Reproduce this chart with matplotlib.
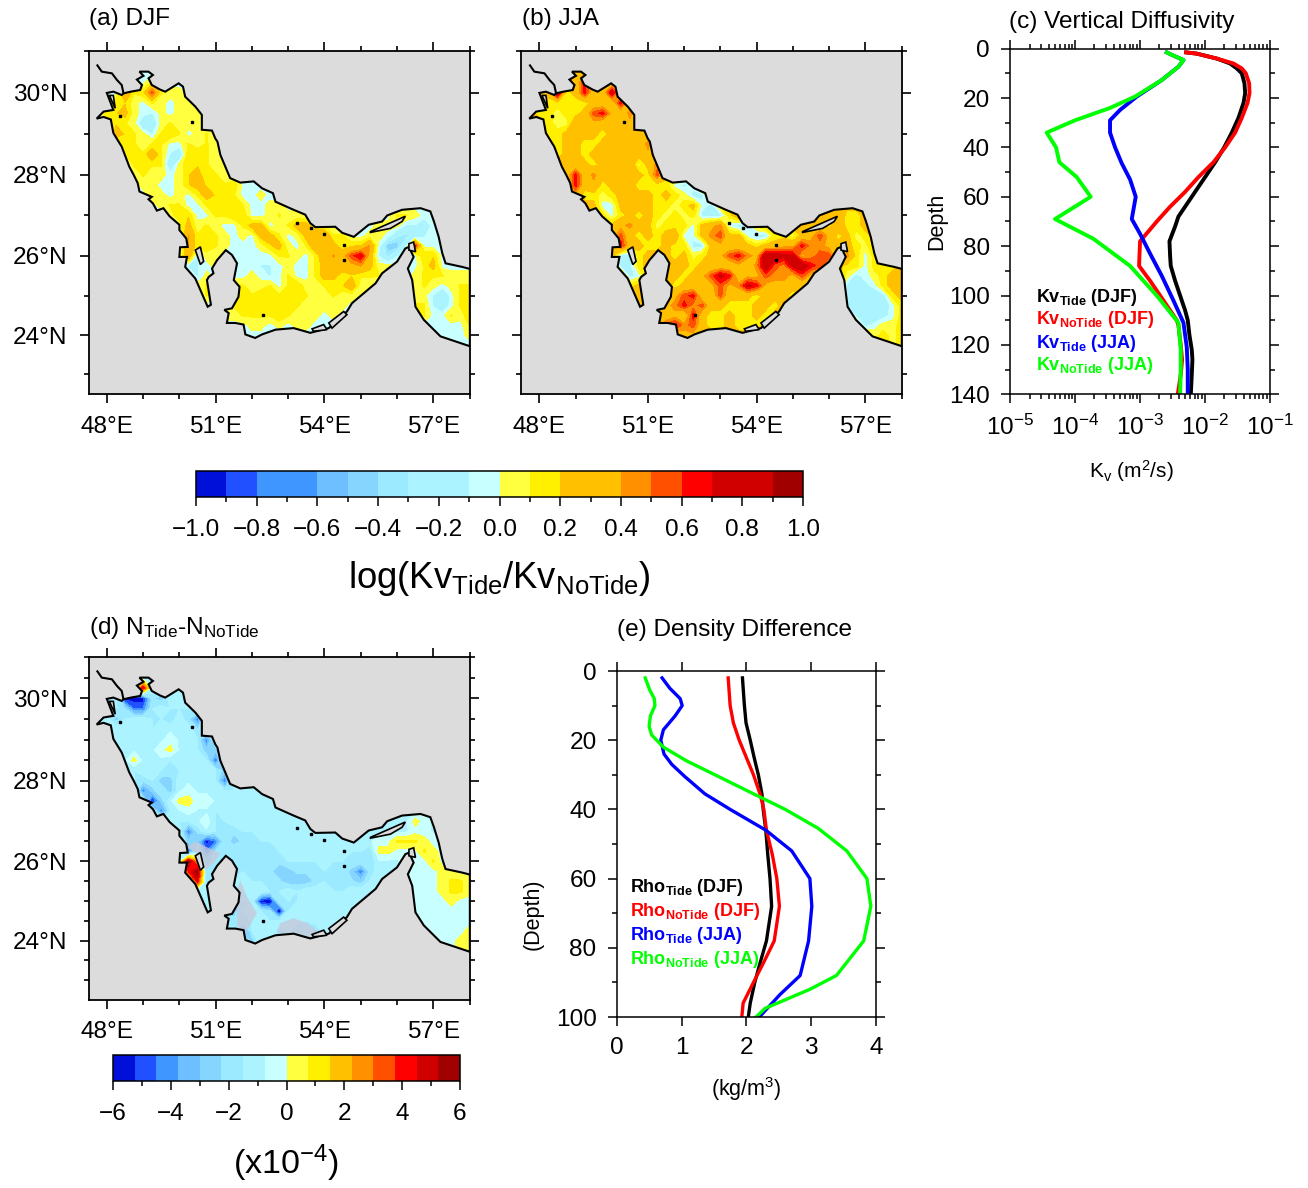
import numpy as np
import matplotlib
matplotlib.use('Agg')
import matplotlib.pyplot as plt
from matplotlib.colors import ListedColormap, BoundaryNorm
from matplotlib.patches import Polygon
from matplotlib.colorbar import ColorbarBase

plt.rcParams['font.family'] = 'Liberation Sans'
plt.rcParams['mathtext.fontset'] = 'custom'
plt.rcParams['mathtext.rm'] = 'Liberation Sans'
plt.rcParams['mathtext.it'] = 'Liberation Sans'
plt.rcParams['mathtext.bf'] = 'Liberation Sans:bold'
plt.rcParams['mathtext.default'] = 'regular'

W, H = 1308, 1188

# --- coast and islands (degrees) ---
coast_lon = [48.46, 48.66, 48.92, 48.97, 48.83, 49.01, 48.90, 49.15, 49.27, 49.15, 49.24, 49.47, 49.61, 49.98, 50.10,
             50.16, 50.44, 50.62, 50.62, 50.90, 50.99, 51.05, 51.13, 51.40, 51.68, 52.05, 52.28, 52.58, 52.65, 53.15,
             53.47, 53.61, 53.75, 54.30, 54.49, 54.81, 55.22, 55.59, 55.73, 56.14, 56.65, 56.92, 57.02, 57.15, 57.25,
             57.34, 57.80, 58.01, 58.01, 57.20, 56.74, 56.51, 56.42, 56.30, 56.46, 56.33, 56.23, 56.00, 55.59, 55.41,
             54.76, 54.62, 54.12, 53.61, 53.15, 52.65, 52.28, 52.09, 51.82, 51.77, 51.54, 51.31, 51.36, 51.24, 51.45,
             51.63, 51.66, 51.50, 51.59, 51.45, 51.28, 51.04, 50.90, 50.94, 50.81, 50.76, 50.87, 50.78, 50.58, 50.44,
             50.16, 50.21, 50.00, 50.02, 50.23, 50.19, 50.00, 50.00, 49.73, 49.56, 49.38, 49.27, 49.15, 49.24, 48.90,
             48.85, 48.74, 48.62, 48.41, 48.18, 48.11, 47.91, 47.72, 47.91, 48.18, 48.00, 48.18, 48.41]
coast_lat = [29.98, 30.02, 30.06, 30.18, 30.31, 30.40, 30.50, 30.50, 30.42, 30.34, 30.18, 30.07, 30.02, 30.22, 30.14,
             29.90, 29.66, 29.46, 29.10, 29.08, 28.89, 28.81, 28.49, 27.92, 27.81, 27.84, 27.67, 27.55, 27.34, 27.14,
             27.02, 26.81, 26.71, 26.72, 26.57, 26.47, 26.77, 26.85, 27.00, 27.14, 27.18, 27.10, 26.85, 26.47, 26.06,
             25.81, 25.72, 25.67, 23.72, 23.97, 24.39, 24.72, 25.39, 25.68, 25.97, 26.22, 26.18, 25.85, 25.56, 25.31,
             24.81, 24.60, 24.18, 24.06, 24.18, 24.14, 24.02, 23.93, 24.02, 24.27, 24.31, 24.31, 24.56, 24.64, 24.68,
             24.97, 25.22, 25.39, 25.81, 26.02, 26.14, 25.89, 25.68, 25.56, 25.47, 25.39, 24.77, 24.72, 25.14, 25.43,
             25.72, 25.97, 25.97, 26.21, 26.22, 26.43, 26.64, 26.77, 26.98, 27.18, 27.12, 27.30, 27.40, 27.46, 27.59,
             27.80, 28.00, 28.20, 28.69, 29.02, 29.35, 29.41, 29.37, 29.54, 29.58, 29.99, 30.02, 29.94]
shatt_lon = [47.74, 47.86, 48.14, 48.28, 48.41, 48.46]
shatt_lat = [30.65, 30.50, 30.46, 30.30, 30.18, 29.98]

bahrain_lon = [50.44, 50.58, 50.67, 50.58]
bahrain_lat = [26.14, 26.22, 25.86, 25.78]
qeshm_lon = [55.27, 56.23, 56.14, 55.82, 55.27]
qeshm_lat = [26.60, 26.98, 26.85, 26.68, 26.58]
musandam_lon = [56.33, 56.46, 56.51, 56.33]
musandam_lat = [26.30, 26.34, 26.10, 26.14]
abu1_lon = [53.66, 53.98, 54.07, 53.70]
abu1_lat = [24.16, 24.27, 24.14, 24.10]
abu2_lon = [54.12, 54.53, 54.62, 54.21]
abu2_lat = [24.31, 24.60, 24.52, 24.18]
bubiyan_lon = [48.07, 48.18, 48.23]
bubiyan_lat = [29.93, 29.93, 29.62]
islet_lon = [53.24, 53.98, 54.53, 48.35, 50.35, 52.31, 54.53, 53.63]
islet_lat = [26.82, 26.54, 25.89, 29.43, 29.30, 24.51, 26.27, 26.68]

# pale grey shelf patches in panel d
shelf1_lon = [50.21, 50.44, 51.13, 50.94, 50.71, 50.60]
shelf1_lat = [26.37, 26.49, 26.20, 25.95, 25.78, 26.10]
shelf2_lon = [52.78, 53.15, 53.52, 53.89, 53.61, 53.15, 52.69]
shelf2_lat = [24.45, 24.57, 24.45, 24.20, 24.07, 24.16, 24.20]
shelf3_lon = [51.68, 51.86, 52.14, 51.77, 51.59, 51.59]
shelf3_lat = [25.53, 25.12, 24.70, 24.12, 24.37, 25.28]

# --- map fields: colour bin index per 0.25 degree cell ---
# each row: first lon column, then values eastward, rows from 30.25N down to 23.75N
grid_lon = np.arange(47.75, 58.01, 0.25)
grid_lat = np.arange(30.5, 23.49, -0.25)

djf_first = [5, 3, 2, 1, 2, 2, 2, 3, 4, 4, 5, 5, 7, 8, 9, 10, 10, 10, 10, 11, 11, 12, 14, 14, 16, 38, 40]
djf_rows = [
    [-1, 1, 1, -1, -1],
    [5, 1, 2, 7, 1, 0, 0],
    [2, 2, 0, -1, 1, 0, -1, 0, 0],
    [2, 2, 3, 0, -1, -2, 0, -1, 0, 0, 0],
    [2, 1, 0, -4, -4, 0, 1, 0, 0, 0],
    [3, 2, 1, 0, -2, 1, 2, 1, -1, 0, 1],
    [1, 2, 1, 0, 1, 1, -1, -1, 1, 0, 1, 0],
    [1, 1, 1, 4, 1, -2, -4, 2, 2, 1, 0],
    [1, 2, 1, 1, -4, 0, 2, 2, 1, 0, 0],
    [0, 1, 0, 0, -1, 0, 2, 3, 1, 1, 0],
    [0, 0, -1, -1, 0, 2, 3, 2, 2, 1, 2, -1, -1],
    [-1, 0, 0, -1, 0, -1, 1, 3, 2, 2, 1, -1, -1, 0, -1],
    [0, 1, 1, -1, -1, 1, 2, 2, 2, 1, -1, -1, 0, 0],
    [0, 2, 2, -1, -1, 1, 1, 2, 2, -1, -1, 0, 1, 0, 0, 0] + [-1] * 9 + [1, 1, 0, -1, -1],
    [0, 3, 0, 1, 0, -1, -1, 1, 3, 3, -1, 0, 1, 3, 3, 1, 1] + [-1] * 5 + [0, 0, 0, -2, -2, -4, -1],
    [5, 1, 1, 1, 0, -1, 0, -1, 3, 3, 1, -1, 0, 3, 4, 4, 1, 1, -1, -1, 0, 0, -1, -4, -5, -4, -2, -1, -1],
    [5, 1, 2, 1, 0, -1, -1, -1, 0, 2, 3, 0, -1, 1, 4, 4, 3, 1, 2, 2, 5, -1, -7, -7, -2, 8, -1, -1, -1],
    [4, -2, 0, 0, -1, -1, -1, -1, -1, -1, 1, 1, 0, -1, 1, 4, 5, 4, 7, 9, 4, -2, -5, -2, -1, -1, 2, 2, -1],
    [-2, -2, -1, 0, -1, -1, -1, -1, -2, -2, -1, 0, -1, -1, 1, 3, 4, 4, 4, 5, 3, 0, 0, 0, -1, -1, 1, 3, -1, -1, -1, -1],
    [-2, 0, -1, -1, -1, -1, 0, -1, -2, -1, 1, -1, -1, 1, 3, 3, 1, 2, 1, 1, 1, -1, -1, -1, 0, 1, 1, 1, 0, 0, 0],
    [0, 1, -1, -1, 1, 1, 0, 0, 1, -1, 1, 2, 0, 0, 1, 1, 2, 4, 0, 0, -1, -1, -1, -1, 0, 1, 0, -1, 0, 1, 1],
    [1, -1, -1, 0, 1, 1, 2, 1, 1, 2, 2, 1, 0, 0, 1, 0, 0, 0] + [-1] * 5 + [0, 0, -2, -5, -1, 1, 2],
    [0, 1, 1, 1, 2, 2, 2, 2, 1, 0, 0, 0, 0, 0] + [-1] * 7 + [1, 1, -2, -4, -1, 1, 2],
    [0, 0, 1, 1, 1, 1, 2, 1, 0, 0, 0, -1, 0] + [-1] * 9 + [1, -1, -1, 1, 0, 2],
    [-1, 0, 0, -1, 0, -1, 0, 0, -1, -1] + [-1] * 15 + [1],
    [-1, -1, -1, 0],
    [-1, -1],
]

jja_first = [5, 3, 2, 1, 2, 2, 3, 3, 4, 4, 5, 5, 7, 8, 9, 10, 10, 10, 10, 11, 11, 12, 14, 14, 15, 17, 40]
jja_rows = [
    [2, 6, 3, 2, 2],
    [8, 1, 2, 6, 2, 2, 7, 3],
    [1, 1, 1, 1, 1, 2, 2, 2, 6, 2],
    [1, 1, 0, 1, 1, 2, 5, 6, 3, 2, 4],
    [1, 0, 0, 3, 3, 3, 2, 2, 2, 3],
    [1, 1, 2, 3, 2, 2, 1, 2, 2, 3, 2],
    [1, 2, 2, 1, 1, 2, 2, 2, 2, 2, 4],
    [1, 2, 2, 1, 2, 2, 3, 2, 2, 2, 3],
    [2, 2, 2, 1, 2, 2, 2, 3, 0, 2, 4],
    [2, 6, 2, 4, 2, 2, 2, 2, 2, 1, 5],
    [6, 2, 3, 1, 2, 2, 2, 1, 1, 1, 1, -1, -2, -1],
    [3, 1, 1, 0, 1, 2, 2, 2, 2, 1, 2, 1, 0, -2, -2],
    [2, -1, -1, 2, 2, 2, 2, 1, 1, 0, 1, 2, -1, -2, 1],
    [1, -1, 1, 2, 1, 2, 1, 0, 1, 0, 1, -2, -2, -2, 1, 3] + [2] * 9 + [2, 3, 1, 1, 2],
    [2, 3, 4, 2, 2, 0, 1, 1, 1, -1, 2, 3, 4, -1, -2, -2, 1] + [2] * 5 + [2, 2, 1, 3, 1, 1, 2],
    [5, 2, 1, 2, 1, 2, 3, -1, -1, 2, 4, 5, 2, 2, -1, -2, -2, 1, 1, 0, 2, 3, 5, 3, 1, 2, 0, 1, 2],
    [6, 2, 2, 1, 1, 2, 1, 1, -2, -2, 2, 3, 2, 2, 2, 1, 2, 2, 3, 3, 6, 4, 4, 3, 2, 2, 1, 0, 2],
    [-2, -2, 1, 2, 2, 2, 1, 2, 0, 1, 2, 3, 5, 6, 4, 3, 8, 8, 7, 7, 3, 4, 5, 5, 2, 4, 1, -1, 1],
    [-2, -2, 1, 2, 2, 2, 2, 2, 1, 2, 2, 2, 2, 3, 2, 4, 8, 5, 4, 7, 8, 6, 5, 3, 2, 1, 1, -1, 1, 1, 1, 2],
    [-2, -1, 2, 2, 2, 2, 1, 2, 3, 5, 7, 6, 2, 3, 3, 5, 4, 4, 3, 5, 3, 2, 2, 2, 0, -2, -1, 0, 1, 2, 3],
    [1, 2, 2, 2, 2, 1, 2, 2, 2, 3, 5, 3, 4, 7, 6, 3, 3, 3, 2, 2] + [2] * 4 + [-2, -2, -2, -1, 1, 2, 3],
    [2, 2, 2, 1, 3, 5, 6, 2, 2, 5, 2, 2, 2, 1, 2, 2, 2, 1] + [2] * 5 + [-2, -3, -3, -3, -2, 1, 2],
    [1, 3, 4, 6, 4, 5, 2, 2, 1, 1, 1, 2, 2, 1] + [2] * 7 + [-2, -3, -3, -3, -3, -1, 1],
    [3, 2, 3, 1, 6, 2, 1, 1, 2, 1, 1, 2, 1] + [2] * 9 + [-2, -3, -3, -2, -1, 1],
    [5, 6, 4, 5, 2, 1, 1, 2, 1, 1, 1] + [2] * 11 + [-2, -1, 0, 0, 1],
    [3, 3] + [2] * 19 + [0, 1, 0, 1],
    [0, 1],
]

n2_first = [4, 3, 2, 1, 2, 2, 3, 3, 4, 4, 5, 6, 7, 8, 9, 10, 10, 10, 10, 10, 11, 12, 14, 14, 16, 17, 39]
n2_rows = [
    [-2, 7, -2, -2, -2],
    [-10, -10, -10, -4, -5, -2, -2],
    [-3, -4, -8, -8, -3, -2, -3, -3, -3],
    [-2, -5, -3, -2, -2, -3, -3, -4, -2, -4, -8],
    [-2, -2, -2, -2, -3, -2, -2, -3, -2, -4],
    [-2, -2, -2, -3, -2, -2, -1, -2, -2, -3, -8],
    [-2, -2, -2, -2, -1, 0, -2, -2, -3, -5, -5],
    [-2, 0, -2, -2, -2, -3, -2, -2, -2, -3, -8],
    [-3, -2, -2, -3, -3, -3, -2, -2, -2, -3, -5],
    [-3, -4, -3, -5, -5, -2, -2, -3, -2, -3, -8],
    [-8, -5, -3, -5, -2, -1, -2, -2, -2, -3, -3, -2],
    [-10, -5, -2, 0, 0, -1, -1, -2, -2, -2],
    [-8, -3, -2, -1, -2, -2, -3, -2, -2],
    [-2, -3, -3, -2, -1, -3, -3] + [-2] * 18 + [-2, -2, 0, -1, -2],
    [-2, -8, -4, -2, -3, -3, -4, -3, -3] + [-2] * 15 + [-2, -2, -1, -1, -2],
    [-5, -5, -10, -8, -3, -5, -4, -3, -3, -3] + [-2] * 11 + [-1, -1, 1, 1, 1, 0, -1],
    [-8, -3, -8, -4, -3, -3, -3, -3, -3, -3, -3] + [-2] * 7 + [-3, -3, -4, 0, 0, -1, -1, -1, 1, 0, -1],
    [9, 3, -5, -3, -3, -3, -3, -3, -3, -3, -4, -3, -3, -3, -3, -2, -3, -3, -3, -3, -4, -2, -2, -2, -1, -1, -1, 1, -1],
    [6, 9, -4, -3, -3, -4, -3, -3, -4, -4, -5, -5, -4, -4, -3, -3, -3, -3, -5, -8, -4, -2, -2, -2, -1, -1, -1, -1, 0, 0, -1, -1],
    [-3, 7, -4, -3, -3, -3, -2, -3, -3, -4, -4, -5, -5, -5, -4, -3, -3, -3, -4, -5, -3, -2, -2, -2, -2, -1, -1, -1, 0, 1, 1, 0],
    [-3, -2, -2, -2, -3, -2, -2, -2, -3, -3, -2, -3, -2, -2, -2, -3, -3] + [-2] * 7 + [-1, -1, -1, 0, 1, 1, 0],
    [-2, -2, -2, -5, -3, -3, -10, -11, -3, -3, -3] + [-2] * 12 + [-1, -1, -1, -1, 0, -1, -1],
    [-2, -5, -3, -2, -3, -4, -11, -3] + [-2] * 14 + [-1] * 6,
    [-4, -4, -3, -3, -2, -3, -2, -2, -2, -3, -2, -2] + [-2] * 10 + [-1] * 6,
    [-8, -3, -2, -2, -4, -3, -5, -3, -5, -2] + [-2] * 11 + [-1, -1, -1, -1, 0],
    [-5, -2] + [-2] * 19 + [-1, -1, 0, 0],
    [-1, 0, 0],
]

# --- profile panels ---
kv_depth_djf = [1.5, 2, 4, 6, 8, 10, 14, 18, 22, 28, 34, 40, 46, 52, 58, 64, 68, 72, 78, 84, 88, 94, 100, 106, 110, 116, 122, 126, 132, 140]
kv_tide_djf = [-2.285, -2.121, -1.812, -1.607, -1.504, -1.427, -1.386, -1.375, -1.401, -1.478, -1.581, -1.699, -1.838, -1.992, -2.147,
               -2.301, -2.404, -2.455, -2.542, -2.532, -2.522, -2.455, -2.378, -2.301, -2.26, -2.234, -2.198, -2.188, -2.198, -2.213]
kv_depth_djf2 = [1.5, 2, 4, 6, 8, 10, 14, 18, 22, 28, 34, 40, 46, 52, 58, 64, 70, 74, 78, 84, 88, 94, 100, 106, 110, 112, 120, 126, 132, 140]
kv_notide_djf = [-2.285, -2.121, -1.812, -1.555, -1.427, -1.365, -1.314, -1.308, -1.339, -1.427, -1.530, -1.684, -1.864, -2.095, -2.301,
                 -2.532, -2.738, -2.866, -2.995, -3.005, -3.010, -2.841, -2.686, -2.532, -2.429, -2.404, -2.368, -2.347, -2.368, -2.414]
kv_depth_tide_jja = [1.5, 2.5, 4.6, 7.3, 12.7, 19.4, 24.8, 29, 34, 40, 46.4, 53, 60, 69, 75, 83, 92, 102, 111, 121, 130, 140]
kv_tide_jja = [-2.584, -2.506, -2.326, -2.404, -2.661, -3.046, -3.303, -3.458, -3.458, -3.380, -3.278, -3.149, -3.062, -3.123, -2.995,
               -2.841, -2.661, -2.481, -2.326, -2.275, -2.260, -2.260]
kv_depth_notide_jja = [1.5, 2.5, 4.6, 7.3, 12.7, 19.4, 24, 29, 34, 40, 46, 52, 60, 69, 77, 88, 100, 111, 122, 130, 140]
kv_notide_jja = [-2.584, -2.506, -2.326, -2.404, -2.661, -3.072, -3.458, -3.997, -4.434, -4.290, -4.239, -3.972, -3.756, -4.306, -3.715,
                 -3.149, -2.738, -2.404, -2.368, -2.368, -2.378]

rho_depth = [2, 10, 15, 20, 25, 30, 35.5, 40, 46, 53, 60, 68, 78, 84.5, 90, 96, 100]
rho_tide_djf = [1.94, 1.97, 1.995, 2.06, 2.12, 2.185, 2.24, 2.26, 2.30, 2.33, 2.365, 2.39, 2.31, 2.21, 2.13, 2.06, 2.03]
rho_notide_djf = [1.72, 1.75, 1.80, 1.89, 2.0, 2.11, 2.21, 2.27, 2.31, 2.40, 2.47, 2.51, 2.43, 2.26, 2.11, 1.95, 1.93]
rho_depth_tide_jja = [2, 5, 8, 10, 13, 17, 20, 24, 27, 30.5, 35.5, 40, 46, 52, 60, 68, 78, 88, 93.5, 100]
rho_tide_jja = [0.70, 0.82, 0.98, 1.01, 0.90, 0.72, 0.68, 0.73, 0.85, 1.05, 1.36, 1.75, 2.30, 2.70, 2.98, 3.01, 2.96, 2.83, 2.52, 2.20]
rho_depth_notide_jja = [2, 5.5, 8, 10, 13, 16, 18.5, 22, 26, 30.5, 35.5, 40, 45.5, 52, 60, 68, 78, 88, 92, 97.5, 100]
rho_notide_jja = [0.44, 0.51, 0.58, 0.59, 0.52, 0.50, 0.54, 0.72, 1.08, 1.57, 2.11, 2.60, 3.11, 3.55, 3.86, 3.92, 3.81, 3.39, 2.98, 2.29, 2.15]

# --- colour scales ---
bar_colors = ['#0010d8', '#2050ff', '#3f96ff', '#6ebfff', '#85d5ff', '#9ceaff', '#aaf3ff', '#c8ffff',
              '#ffff40', '#fff000', '#ffc000', '#ff9000', '#ff5000', '#ff0000', '#d00000', '#a00000']
kv_levels = [-1, -0.9, -0.8, -0.6, -0.5, -0.4, -0.3, -0.1, 0, 0.1, 0.2, 0.4, 0.5, 0.6, 0.7, 0.9, 1]
kv_ticks = [-1.0, -0.8, -0.6, -0.4, -0.2, 0.0, 0.2, 0.4, 0.6, 0.8, 1.0]
kv_tick_labels = ['\u22121.0', '\u22120.8', '\u22120.6', '\u22120.4', '\u22120.2', '0.0', '0.2', '0.4', '0.6', '0.8', '1.0']
n2_levels = [-6, -5.25, -4.5, -3.75, -3, -2.25, -1.5, -0.75, 0, 0.75, 1.5, 2.25, 3, 3.75, 4.5, 5.25, 6]
n2_ticks = [-6, -4, -2, 0, 2, 4, 6]
n2_tick_labels = ['\u22126', '\u22124', '\u22122', '0', '2', '4', '6']

lon_ticks = [48, 51, 54, 57]
lon_labels = ['48\u00b0E', '51\u00b0E', '54\u00b0E', '57\u00b0E']
lat_ticks = [24, 26, 28, 30]
lat_labels = ['24\u00b0N', '26\u00b0N', '28\u00b0N', '30\u00b0N']

LAND = '#dcdcdc'
MAJOR, MINOR = 6.5, 3.4
FONT = 17.6
cmap = ListedColormap(bar_colors)


def axes_px(left, top, right, bottom):
    return fig.add_axes([left / W, 1 - bottom / H, (right - left) / W, (bottom - top) / H])


def label_px(x, y, text, **kw):
    kw.setdefault('fontsize', FONT)
    kw.setdefault('va', 'center')
    fig.text(x / W, 1 - y / H, text, **kw)


def merc(lat):
    return np.log(np.tan(np.pi / 4 + np.radians(lat) / 2))


def merc_inv(y):
    return np.degrees(2 * np.arctan(np.exp(y)) - np.pi / 2)


def build_field(first, rows, default, unit):
    grid = np.full((len(grid_lat), len(grid_lon)), float(default))
    for r, (start, vals) in enumerate(zip(first, rows)):
        grid[r + 1, start:start + len(vals)] = vals
    return (grid + 0.5) * unit


def draw_map(ax, field, levels, lat_minor):
    ax.set_facecolor(LAND)
    ax.set_xlim(47.5, 58)
    ax.set_yscale('function', functions=(merc, merc_inv))
    ax.set_ylim(22.5, 31)
    coast = Polygon(np.column_stack([coast_lon, coast_lat]), closed=True, facecolor='none',
                    edgecolor='black', linewidth=1.5, zorder=4)
    ax.add_patch(coast)
    cs = ax.contourf(grid_lon, grid_lat[::-1], field[::-1], levels=levels, colors=bar_colors, zorder=2)
    cs.set_clip_path(coast)
    ax.plot(shatt_lon, shatt_lat, color='black', linewidth=1.5, zorder=4)
    for xs, ys in [(bahrain_lon, bahrain_lat), (qeshm_lon, qeshm_lat), (musandam_lon, musandam_lat),
                   (abu1_lon, abu1_lat), (abu2_lon, abu2_lat), (bubiyan_lon, bubiyan_lat)]:
        ax.add_patch(Polygon(np.column_stack([xs, ys]), closed=True, facecolor=LAND,
                             edgecolor='black', linewidth=1.2, zorder=5))
    ax.plot(islet_lon, islet_lat, linestyle='none', marker='s', markersize=1.6, color='black', zorder=5)

    ax.set_xticks(lon_ticks, lon_labels)
    ax.set_xticks(np.arange(48, 58.5, 1), minor=True)
    ax.set_yticks(lat_ticks, lat_labels)
    ax.set_yticks(lat_minor, minor=True)
    ax.yaxis.set_major_formatter(plt.FixedFormatter(lat_labels))
    ax.yaxis.set_minor_formatter(plt.NullFormatter())
    ax.tick_params(which='major', direction='out', top=True, right=True, length=MAJOR, width=1.2,
                   labelsize=FONT, pad=9)
    ax.tick_params(which='minor', direction='out', top=True, right=True, length=MINOR, width=1.2)
    for s in ax.spines.values():
        s.set_linewidth(1.3)
    return coast


def style_profile(ax):
    ax.tick_params(which='major', direction='out', top=True, right=True, length=MAJOR, width=1.1,
                   labelsize=FONT, pad=8)
    ax.tick_params(which='minor', direction='out', top=True, right=True, length=MINOR, width=1.1)
    for s in ax.spines.values():
        s.set_linewidth(1.1)


fig = plt.figure(figsize=(W / 100, H / 100), dpi=100)

# --- (a) DJF ---
ax_a = axes_px(88.7, 50.7, 469.5, 394)
draw_map(ax_a, build_field(djf_first, djf_rows, -1, 0.075), kv_levels, np.arange(23, 32, 1))
label_px(89, 19, '(a) DJF')

# --- (b) JJA ---
ax_b = axes_px(521.3, 50.7, 901.5, 394)
draw_map(ax_b, build_field(jja_first, jja_rows, 2, 0.1), kv_levels, np.arange(23, 32, 1))
ax_b.set_yticklabels([])
label_px(522, 19, '(b) JJA')

# --- (d) N difference ---
ax_d = axes_px(88.7, 656.7, 469.5, 999.5)
coast_d = draw_map(ax_d, build_field(n2_first, n2_rows, -2, 0.6), n2_levels, np.arange(23, 31.5, 0.5))
for xs, ys in [(shelf1_lon, shelf1_lat), (shelf2_lon, shelf2_lat), (shelf3_lon, shelf3_lat)]:
    shelf = Polygon(np.column_stack([xs, ys]), closed=True, facecolor='#c8c8d8', edgecolor='none',
                    alpha=0.75, zorder=3)
    ax_d.add_patch(shelf)
    shelf.set_clip_path(coast_d)
label_px(89, 628, r'(d) N$_{Tide}$-N$_{NoTide}$')

# --- (c) vertical diffusivity ---
ax_c = axes_px(1010, 48.7, 1269.5, 394.3)
ax_c.plot(10.0 ** np.array(kv_tide_djf), kv_depth_djf, color='black', linewidth=2.8)
ax_c.plot(10.0 ** np.array(kv_notide_djf), kv_depth_djf2, color='#ff0000', linewidth=2.8)
ax_c.plot(10.0 ** np.array(kv_tide_jja), kv_depth_tide_jja, color='#0000ff', linewidth=2.8)
ax_c.plot(10.0 ** np.array(kv_notide_jja), kv_depth_notide_jja, color='#00ff00', linewidth=2.8)
ax_c.set_xscale('log')
ax_c.set_xlim(1e-5, 1e-1)
ax_c.set_ylim(140, 0)
ax_c.set_xticks([1e-5, 1e-4, 1e-3, 1e-2, 1e-1])
ax_c.xaxis.set_minor_locator(matplotlib.ticker.LogLocator(base=10, subs=np.arange(2, 10), numticks=12))
ax_c.xaxis.set_minor_formatter(plt.NullFormatter())
ax_c.set_yticks(np.arange(0, 141, 20))
ax_c.set_yticks(np.arange(0, 141, 10), minor=True)
style_profile(ax_c)
label_px(1009, 22, '(c) Vertical Diffusivity')
label_px(937, 221, 'Depth', rotation=90, ha='center', fontsize=15.5)
label_px(1131, 471, r'K$_{v}$ (m$^{2}$/s)', ha='center', fontsize=15)
for y, txt, col in [(298, r'Kv$_{\mathbf{Tide}}$ (DJF)', 'black'), (320, r'Kv$_{\mathbf{NoTide}}$ (DJF)', '#ff0000'),
                    (343, r'Kv$_{\mathbf{Tide}}$ (JJA)', '#0000ff'), (366, r'Kv$_{\mathbf{NoTide}}$ (JJA)', '#00ff00')]:
    label_px(1036, y, txt, color=col, fontsize=13, fontweight='bold')

# --- (e) density difference ---
ax_e = axes_px(616.7, 671, 876, 1017)
ax_e.plot(rho_tide_djf, rho_depth, color='black', linewidth=2.4)
ax_e.plot(rho_notide_djf, rho_depth, color='#ff0000', linewidth=2.4)
ax_e.plot(rho_tide_jja, rho_depth_tide_jja, color='#0000ff', linewidth=2.4)
ax_e.plot(rho_notide_jja, rho_depth_notide_jja, color='#00ff00', linewidth=2.4)
ax_e.set_xlim(0, 4)
ax_e.set_ylim(100, 0)
ax_e.set_xticks([0, 1, 2, 3, 4])
ax_e.set_yticks(np.arange(0, 101, 20))
ax_e.set_yticks(np.arange(0, 101, 10), minor=True)
style_profile(ax_e)
label_px(617, 630, '(e) Density Difference')
label_px(533, 914, '(Depth)', rotation=90, ha='center', fontsize=15.5)
label_px(746, 1089, r'(kg/m$^{3}$)', ha='center', fontsize=15.5)
for y, txt, col in [(887, r'Rho$_{\mathbf{Tide}}$ (DJF)', 'black'), (911, r'Rho$_{\mathbf{NoTide}}$ (DJF)', '#ff0000'),
                    (936, r'Rho$_{\mathbf{Tide}}$ (JJA)', '#0000ff'), (960, r'Rho$_{\mathbf{NoTide}}$ (JJA)', '#00ff00')]:
    label_px(630, y, txt, color=col, fontsize=13, fontweight='bold')

# --- colorbars ---
cax1 = axes_px(196, 470.5, 803, 497)
cb1 = ColorbarBase(cax1, cmap=cmap, norm=BoundaryNorm(kv_levels, cmap.N), spacing='proportional',
                   orientation='horizontal', ticks=kv_ticks)
cb1.set_ticklabels(kv_tick_labels)
cax1.set_xticks(np.arange(-1, 1.01, 0.1), minor=True)
cax1.tick_params(which='major', length=MAJOR, width=1.1, labelsize=FONT, pad=9.5)
cax1.tick_params(which='minor', length=MINOR, width=1.1)
cb1.outline.set_linewidth(1.1)
label_px(499, 578, r'log(Kv$_{Tide}$/Kv$_{NoTide}$)', ha='center', fontsize=26.3)

cax2 = axes_px(113, 1055, 460, 1081)
cb2 = ColorbarBase(cax2, cmap=cmap, norm=BoundaryNorm(n2_levels, cmap.N), spacing='proportional',
                   orientation='horizontal', ticks=n2_ticks)
cb2.set_ticklabels(n2_tick_labels)
cax2.set_xticks(np.arange(-6, 6.1, 1), minor=True)
cax2.tick_params(which='major', length=MAJOR, width=1.1, labelsize=FONT, pad=9)
cax2.tick_params(which='minor', length=MINOR, width=1.1)
cb2.outline.set_linewidth(1.1)
label_px(286, 1163, r'(x10$^{-4}$)', ha='center', fontsize=24.5)

fig.savefig('out.png', dpi=100)
plt.close(fig)
